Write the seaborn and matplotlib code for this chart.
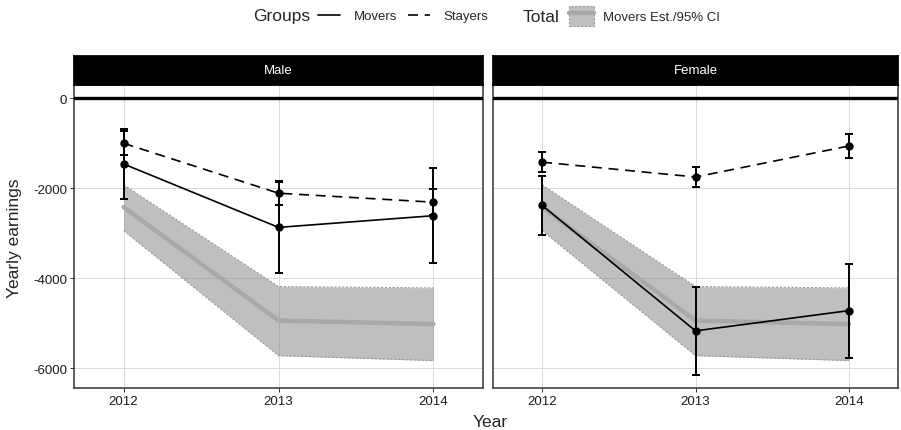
import numpy as np
import pandas as pd
import matplotlib
matplotlib.use("Agg")
import matplotlib.pyplot as plt
from matplotlib.lines import Line2D
from matplotlib.patches import Patch
import seaborn as sns

# ---- data -------------------------------------------------------------
years = [2012, 2013, 2014]
panels = ["Male", "Female"]

male_movers = [-1460, -2870, -2610]
male_movers_lo = [-2240, -3880, -3660]
male_movers_hi = [-680, -1860, -1555]
male_stayers = [-1000, -2110, -2310]
male_stayers_lo = [-1270, -2380, -2605]
male_stayers_hi = [-730, -1845, -2015]

female_movers = [-2380, -5170, -4720]
female_movers_lo = [-3040, -6150, -5770]
female_movers_hi = [-1730, -4190, -3680]
female_stayers = [-1420, -1750, -1060]
female_stayers_lo = [-1640, -1970, -1330]
female_stayers_hi = [-1200, -1520, -800]

# pooled movers estimate with 95% CI (same in both panels)
total_est = [-2420, -4940, -5020]
total_lo = [-2940, -5720, -5830]
total_hi = [-1925, -4185, -4215]

yticks = [0, -2000, -4000, -6000]

rows = []
for panel, mv, mlo, mhi, st, slo, shi in [
    ("Male", male_movers, male_movers_lo, male_movers_hi,
     male_stayers, male_stayers_lo, male_stayers_hi),
    ("Female", female_movers, female_movers_lo, female_movers_hi,
     female_stayers, female_stayers_lo, female_stayers_hi),
]:
    for i, yr in enumerate(years):
        rows.append(dict(panel=panel, group="Movers", year=yr, est=mv[i], lo=mlo[i], hi=mhi[i]))
        rows.append(dict(panel=panel, group="Stayers", year=yr, est=st[i], lo=slo[i], hi=shi[i]))
df = pd.DataFrame(rows)
total = pd.DataFrame(dict(year=years, est=total_est, lo=total_lo, hi=total_hi))

# ---- style ------------------------------------------------------------
sns.set_theme(style="whitegrid")
plt.rcParams["font.family"] = ["Liberation Sans", "DejaVu Sans"]
plt.rcParams["axes.grid"] = True

W, H = 901, 431
fig = plt.figure(figsize=(W / 100, H / 100), dpi=100)

def fx(px):
    return px / W

def fy(px):
    return 1 - px / H

panel_boxes = {"Male": (74, 483), "Female": (493, 898)}
top_px, bot_px, strip_top = 86, 389, 57

band_fill = (0.5, 0.5, 0.5, 0.5)
band_line = "#a8a8a8"
band_edge = "#9a9a9a"
dash_pat = (6, 4)

for k, panel in enumerate(panels):
    x0, x1 = panel_boxes[panel]
    ax = fig.add_axes([fx(x0), fy(bot_px), fx(x1 - x0), fy(top_px) - fy(bot_px)])
    ax.set_facecolor("white")

    # pooled movers band
    ax.fill_between(total["year"], total["lo"], total["hi"], color=band_fill,
                    lw=0, zorder=2)
    ax.plot(total["year"], total["lo"], color=band_edge, lw=0.8, ls=(0, (2, 1.5)), zorder=2.1)
    ax.plot(total["year"], total["hi"], color=band_edge, lw=0.8, ls=(0, (2, 1.5)), zorder=2.1)
    sns.lineplot(data=total, x="year", y="est", color=band_line, lw=3.2, ax=ax,
                 zorder=2.2, legend=False)

    sub = df[df["panel"] == panel]
    sns.lineplot(data=sub, x="year", y="est", style="group",
                 dashes={"Movers": "", "Stayers": dash_pat},
                 markers={"Movers": "o", "Stayers": "o"}, markersize=6,
                 markeredgewidth=0, color="black", lw=1.2, errorbar=None,
                 ax=ax, legend=False, zorder=4)
    for g in ["Movers", "Stayers"]:
        s = sub[sub["group"] == g]
        ax.errorbar(s["year"], s["est"],
                    yerr=[s["est"] - s["lo"], s["hi"] - s["est"]],
                    fmt="none", ecolor="black", elinewidth=1.4, capsize=2.8,
                    capthick=1.4, zorder=3.5)

    ax.axhline(0, color="black", lw=2.4, zorder=3)

    ax.set_xlim(2011.68, 2014.32)
    ax.set_ylim(-6440, 295)
    ax.set_xticks(years)
    ax.set_xticklabels([str(y) for y in years])
    ax.set_yticks(yticks)
    if k == 0:
        ax.set_yticklabels([str(v) for v in yticks])
    else:
        ax.set_yticklabels([])
    ax.set_xlabel("")
    ax.set_ylabel("")
    ax.grid(True, color="#d9d9d9", lw=0.7, zorder=0)
    ax.set_axisbelow(True)
    ax.tick_params(axis="both", which="both", length=3, width=0.7, color="#333333",
                   labelsize=9.5, labelcolor="#1a1a1a", pad=2,
                   bottom=True, left=(k == 0))
    for sp in ax.spines.values():
        sp.set_color("#333333")
        sp.set_linewidth(1.1)

    # facet strip
    sax = fig.add_axes([fx(x0), fy(top_px), fx(x1 - x0), fy(strip_top) - fy(top_px)])
    sax.set_facecolor("black")
    sax.set_xticks([])
    sax.set_yticks([])
    sax.grid(False)
    for sp in sax.spines.values():
        sp.set_color("black")
    sax.text(0.5, 0.5, panel, color="white", ha="center", va="center",
             fontsize=9.5, transform=sax.transAxes)

fig.text(fx(490), fy(423), "Year", ha="center", va="center", fontsize=12.5)
fig.text(fx(15), fy(238), "Yearly earnings", ha="center", va="center",
         rotation=90, fontsize=12.5)

# ---- legend -----------------------------------------------------------
fig.text(fx(253), fy(17), "Groups", ha="left", va="center", fontsize=12.5)
group_handles = [
    Line2D([], [], color="black", lw=1.2),
    Line2D([], [], color="black", lw=1.2, ls=(0, dash_pat)),
]
fig.legend(group_handles, ["Movers", "Stayers"], ncol=2, frameon=False,
           loc="center left", bbox_to_anchor=(fx(318), fy(17)),
           fontsize=9.5, handlelength=1.7, handletextpad=1.0,
           columnspacing=0.8, borderaxespad=0, borderpad=0)

fig.text(fx(523), fy(17), "Total", ha="left", va="center", fontsize=12.5)
total_handle = (
    Patch(facecolor=band_fill, edgecolor=band_edge, lw=0.8, ls=(0, (2, 1.5))),
    Line2D([], [], color=band_line, lw=3.2),
)
fig.legend([total_handle], ["Movers Est./95% CI"], frameon=False,
           loc="center left", bbox_to_anchor=(fx(569), fy(17)),
           fontsize=9.5, handlelength=1.9, handleheight=1.9,
           handletextpad=0.7, borderaxespad=0, borderpad=0)

fig.savefig("out.png", dpi=100)
